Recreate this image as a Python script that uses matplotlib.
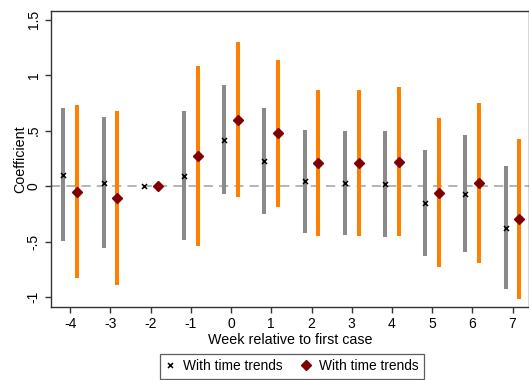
import numpy as np
import matplotlib
matplotlib.use("Agg")
import matplotlib.pyplot as plt
from matplotlib.lines import Line2D

plt.rcParams["font.family"] = ["Liberation Sans", "DejaVu Sans"]

weeks = [-4, -3, -2, -1, 0, 1, 2, 3, 4, 5, 6, 7]

# model 1 (x markers, gray bars)
coef1 = [0.105, 0.033, 0.0, 0.096, 0.42, 0.224, 0.043, 0.03, 0.024, -0.153, -0.066, -0.372]
lo1 = [-0.49, -0.556, 0.0, -0.48, -0.066, -0.25, -0.417, -0.438, -0.456, -0.63, -0.59, -0.925]
hi1 = [0.70, 0.62, 0.0, 0.673, 0.91, 0.70, 0.507, 0.50, 0.50, 0.327, 0.46, 0.186]

# model 2 (diamonds, orange bars)
coef2 = [-0.054, -0.108, 0.0, 0.27, 0.60, 0.475, 0.207, 0.213, 0.222, -0.06, 0.028, -0.297]
lo2 = [-0.83, -0.89, 0.0, -0.54, -0.10, -0.186, -0.444, -0.444, -0.444, -0.727, -0.694, -1.015]
hi2 = [0.73, 0.68, 0.0, 1.084, 1.30, 1.14, 0.862, 0.87, 0.889, 0.61, 0.748, 0.423]

yticks = [-1, -0.5, 0, 0.5, 1, 1.5]
ytick_labels = ["-1", "-.5", "0", ".5", "1", "1.5"]

gray = "#8a8a8a"
orange = "#ff8000"
maroon = "#800000"

fig = plt.figure(figsize=(5.29, 3.80), dpi=100)
ax = fig.add_axes([51 / 529, 1 - 307 / 380, 1 - 51 / 529, (307 - 11) / 380])

x = np.array(weeks, dtype=float)
off = 0.17

ax.axhline(0, color="#a0a0a0", lw=1.1, ls=(0, (6, 4)), zorder=1)

for xi, l, h in zip(x - off, lo1, hi1):
    if h != l:
        ax.plot([xi, xi], [l, h], color=gray, lw=2.9, solid_capstyle="butt", zorder=2)
for xi, l, h in zip(x + off, lo2, hi2):
    if h != l:
        ax.plot([xi, xi], [l, h], color=orange, lw=2.9, solid_capstyle="butt", zorder=2)

ax.plot(x - off, coef1, ls="none", marker="x", color="black", ms=3.6, mew=1.1, zorder=3)
ax.plot(x + off, coef2, ls="none", marker="D", color=maroon, ms=5.3, zorder=3)

ax.set_xlim(-4.48, 7.41)
ax.set_ylim(-1.087, 1.577)
ax.set_xticks(weeks)
ax.set_xticklabels([str(w) for w in weeks], fontsize=10)
ax.set_yticks(yticks)
ax.set_yticklabels(ytick_labels, fontsize=10, rotation=90, va="center")
ax.tick_params(direction="out", length=4.3, width=1, color="#333333", pad=3)
ax.set_xlabel("Week relative to first case", fontsize=10.3, labelpad=1)
ax.set_ylabel("Coefficient", fontsize=10.3)
ax.yaxis.set_label_coords(-0.05, 0.5)
for s in ax.spines.values():
    s.set_color("#333333")
    s.set_linewidth(1)

handles = [
    Line2D([], [], ls="none", marker="x", color="black", ms=3.6, mew=1.1),
    Line2D([], [], ls="none", marker="D", color=maroon, ms=5.3),
]
leg = fig.legend(handles, ["With time trends", "With time trends"], ncol=2,
                 loc="center", bbox_to_anchor=(292 / 529, 1 - 366 / 380),
                 fontsize=9.9, frameon=True, fancybox=False, handlelength=0.7,
                 handletextpad=0.6, columnspacing=1.3, borderpad=0.4,
                 borderaxespad=0)
leg.get_frame().set_edgecolor("#333333")
leg.get_frame().set_linewidth(0.9)

fig.savefig("out.png", dpi=100)
